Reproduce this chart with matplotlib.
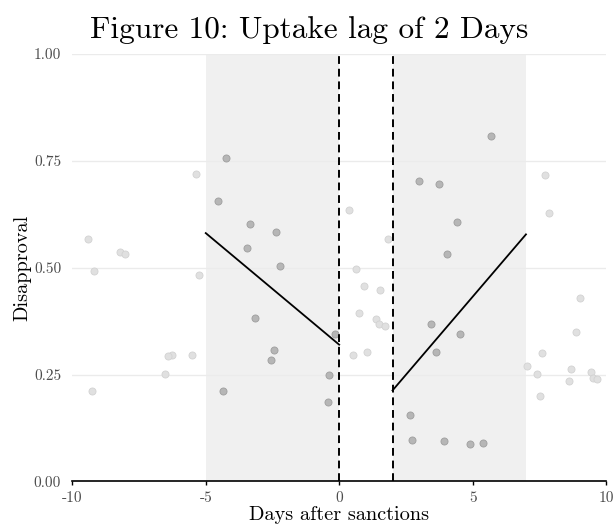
import matplotlib
matplotlib.use("Agg")
import matplotlib.pyplot as plt

# In-window (shaded) observations
in_x = [-4.24, -4.55, -3.34, -2.36, -3.47, -2.23, -3.16, -0.15, -2.44, -2.56,
        -0.37, -4.35, -0.43,
        5.69, 3.01, 3.73, 4.41, 4.05, 3.45, 4.53, 3.61, 2.64, 2.73, 3.94, 4.91, 5.39]
in_y = [0.757, 0.655, 0.603, 0.583, 0.547, 0.505, 0.382, 0.344, 0.308, 0.284,
        0.248, 0.212, 0.187,
        0.808, 0.703, 0.696, 0.606, 0.531, 0.368, 0.346, 0.303, 0.155, 0.098, 0.094, 0.087, 0.089]

# Out-of-window observations
out_x = [-5.38, -9.42, -8.22, -8.02, -9.19, -5.27, -6.27, -6.40, -5.51, -6.51, -9.26,
         0.36, 0.63, 0.93, 1.54, 0.75, 1.38, 1.50, 1.73, 1.05, 0.50, 1.84,
         7.70, 7.86, 9.04, 8.87, 7.59, 7.03, 7.40, 8.68, 9.44, 8.62, 9.52, 9.66, 7.53]
out_y = [0.719, 0.567, 0.536, 0.533, 0.492, 0.484, 0.295, 0.293, 0.296, 0.252, 0.212,
         0.635, 0.497, 0.457, 0.448, 0.393, 0.380, 0.369, 0.364, 0.303, 0.296, 0.567,
         0.717, 0.627, 0.429, 0.350, 0.300, 0.269, 0.252, 0.263, 0.256, 0.236, 0.242, 0.239, 0.199]

# Fitted lines
pre_x = [-5, 0]
pre_y = [0.581, 0.320]
post_x = [2, 7]
post_y = [0.213, 0.578]

windows = [(-5, 0), (2, 7)]
cutoffs = [0, 2]

xticks = [-10, -5, 0, 5, 10]
xticklabels = ["-10", "-5", "0", "5", "10"]
yticks = [0.0, 0.25, 0.5, 0.75, 1.0]
yticklabels = ["0.00", "0.25", "0.50", "0.75", "1.00"]

plt.rcParams['font.family'] = ['cmr10', 'DejaVu Serif']
plt.rcParams['mathtext.fontset'] = 'cm'

fig = plt.figure(figsize=(6.15, 5.25), dpi=100)
ax = fig.add_axes([0.1176, 0.0829, 0.8678, 0.8143])

for a, b in windows:
    ax.axvspan(a, b, color='#f0f0f0', zorder=0, lw=0)

for yt in yticks:
    ax.axhline(yt, color='#ebebeb', lw=1.0, zorder=0.5)

ax.scatter(out_x, out_y, s=26, facecolor='#e0e0e0', edgecolor='#d2d2d2', linewidth=0.6, zorder=2)
ax.scatter(in_x, in_y, s=26, facecolor='#b6b6b6', edgecolor='#9e9e9e', linewidth=0.6, zorder=2)

ax.plot(pre_x, pre_y, color='black', lw=1.3, zorder=3)
ax.plot(post_x, post_y, color='black', lw=1.3, zorder=3)

for c in cutoffs:
    ax.axvline(c, color='black', lw=1.4, linestyle=(0, (4, 2.5)), zorder=4)

ax.set_xlim(-10, 10)
ax.set_ylim(0, 1)
ax.set_xticks(xticks)
ax.set_xticklabels(xticklabels)
ax.set_yticks(yticks)
ax.set_yticklabels(yticklabels)

for s in ['top', 'right', 'left']:
    ax.spines[s].set_visible(False)
ax.spines['bottom'].set_linewidth(1.2)
ax.spines['bottom'].set_color('black')

ax.tick_params(axis='x', length=3, width=1.0, colors='black', labelcolor='#4d4d4d', labelsize=11, pad=4)
ax.tick_params(axis='y', length=0, labelcolor='#4d4d4d', labelsize=11, pad=8)

ax.set_xlabel("Days after sanctions", fontsize=14.6, labelpad=1)
ax.set_ylabel("Disapproval", fontsize=14.6, labelpad=2)
fig.text(0.503, 0.943, "Figure 10: Uptake lag of 2 Days", fontsize=22.5, ha='center', va='center')

fig.savefig("out.png", dpi=100)
